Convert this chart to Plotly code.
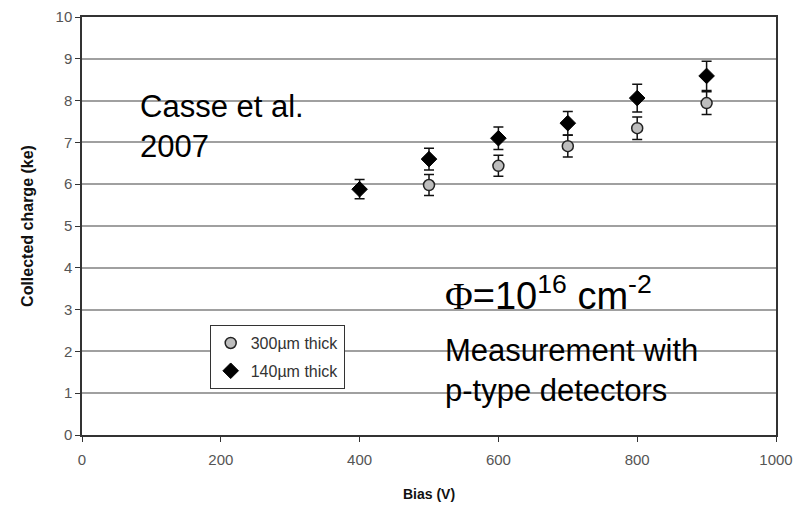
import plotly.graph_objects as go

bias_300 = [500, 600, 700, 800, 900]
charge_300 = [5.98, 6.44, 6.91, 7.34, 7.94]
err_300 = [0.25, 0.25, 0.26, 0.27, 0.27]

bias_140 = [400, 500, 600, 700, 800, 900]
charge_140 = [5.88, 6.60, 7.10, 7.46, 8.06, 8.59]
err_140 = [0.23, 0.26, 0.27, 0.28, 0.33, 0.35]

x_ticks = [0, 200, 400, 600, 800, 1000]
y_ticks = list(range(0, 11))

fig = go.Figure()
fig.add_trace(go.Scatter(
    x=bias_300, y=charge_300, mode="markers", name="300µm thick",
    legendgroup="a",
    marker=dict(symbol="circle", size=11, color="#bdbdbd",
                line=dict(color="#222", width=1.5)),
    error_y=dict(type="data", array=err_300, color="#111", thickness=1.5, width=5),
))
fig.add_trace(go.Scatter(
    x=bias_140, y=charge_140, mode="markers", name="140µm thick",
    legendgroup="b",
    marker=dict(symbol="diamond", size=12, color="#000",
                line=dict(color="#000", width=1)),
    error_y=dict(type="data", array=err_140, color="#111", thickness=1.5, width=5),
))

font = "Liberation Sans, Arial, sans-serif"
fig.update_layout(
    width=810, height=510,
    margin=dict(l=74, r=42, t=9, b=83),
    paper_bgcolor="white", plot_bgcolor="white",
    font=dict(family=font, color="#333"),
    showlegend=True,
    legend=dict(x=0.184, y=0.263, xanchor="left", yanchor="top",
                bgcolor="white", bordercolor="#333", borderwidth=1,
                font=dict(size=16, color="#333"), tracegroupgap=4,
                itemwidth=30),
    xaxis=dict(range=[0, 1000], tickvals=x_ticks, showgrid=False,
               ticks="outside", ticklen=5, tickcolor="#333",
               showline=True, linecolor="#333", linewidth=1.5, mirror=True,
               tickfont=dict(size=15, color="#555"), ticklabelstandoff=5,
               title=dict(text="<b>Bias (V)</b>", font=dict(size=14, color="#111"), standoff=22),
               zeroline=False, automargin=False),
    yaxis=dict(range=[0, 10], tickvals=y_ticks, showgrid=True,
               gridcolor="#a0a0a0", gridwidth=1.5,
               ticks="outside", ticklen=5, tickcolor="#333",
               showline=True, linecolor="#333", linewidth=1.5, mirror=True,
               tickfont=dict(size=15, color="#555"),
               title=dict(text="<b>Collected charge (ke)</b>", font=dict(size=16, color="#111"), standoff=18),
               zeroline=False, automargin=False),
)

fig.add_annotation(x=80.7, y=7.37, xref="x", yref="y", xanchor="left", yanchor="middle",
                   text="Casse et al.<br>2007", showarrow=False, align="left",
                   font=dict(size=31, color="#000", family=font))
fig.add_annotation(x=520, y=3.4, xref="x", yref="y", xanchor="left", yanchor="middle",
                   text="<span style='font-family:Liberation Serif'>Φ</span>=10<sup>16</sup> cm<sup>-2</sup>",
                   showarrow=False, align="left",
                   font=dict(size=38, color="#000", family=font))
fig.add_annotation(x=520, y=1.55, xref="x", yref="y", xanchor="left", yanchor="middle",
                   text="Measurement with<br>p-type detectors", showarrow=False, align="left",
                   font=dict(size=31, color="#000", family=font))

fig.write_html("out.html")
